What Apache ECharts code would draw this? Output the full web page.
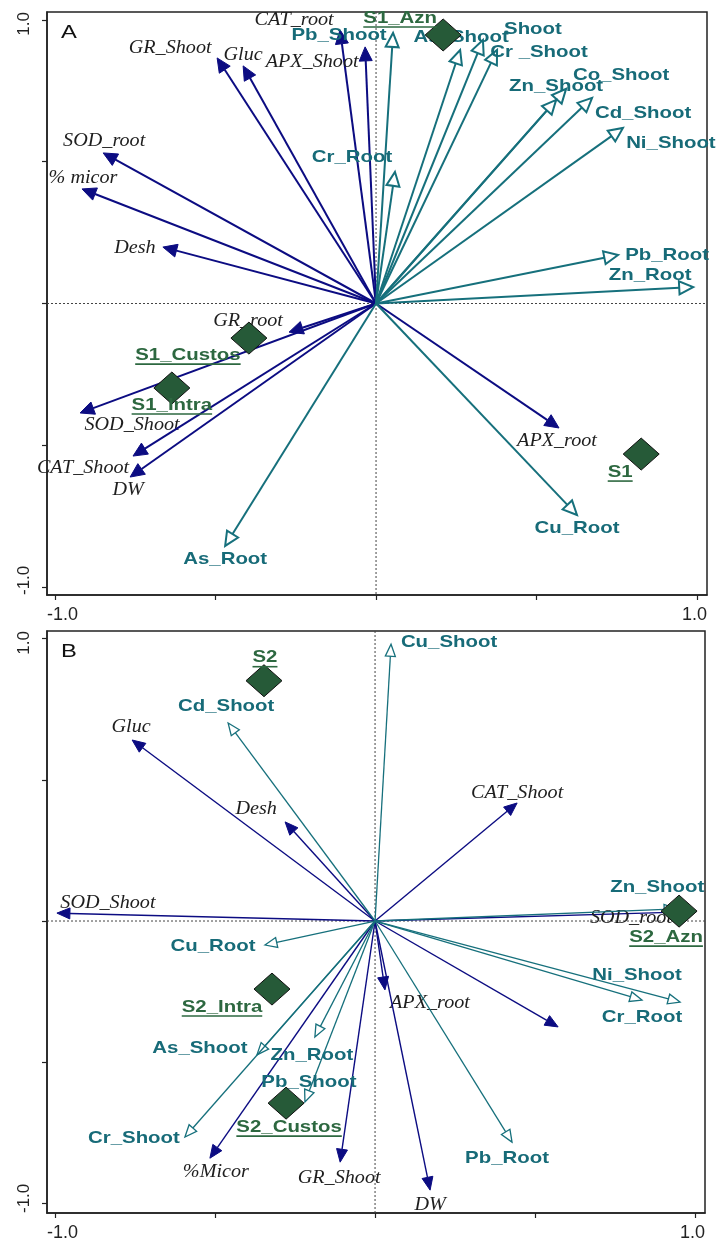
<!DOCTYPE html>
<html>
<head>
<meta charset="utf-8">
<title>RDA biplots A / B</title>
<script src="https://cdn.jsdelivr.net/npm/echarts@6/dist/echarts.min.js"></script>
<style>
html, body { margin: 0; padding: 0; background: #fff; }
#chart { width: 718px; height: 1240px; }
</style>
</head>
<body>
<div id="chart"></div>
<script>
// ticks on both axes, only the two ends carry a label
const tickValues = [-1, -0.5, 0, 0.5, 1];
const endLabels = ['-1.0', '1.0'];

// ---- panel A ----
const aTraitNames = ['CAT_root', 'APX_Shoot', 'GR_Shoot', 'Gluc', 'SOD_root', '% micor', 'Desh',
    'GR_root', 'SOD_Shoot', 'CAT_Shoot', 'DW', 'APX_root'];
const aTraitXY = [[-0.112, 0.965], [-0.034, 0.905], [-0.495, 0.866], [-0.414, 0.838], [-0.850, 0.531],
    [-0.916, 0.404], [-0.664, 0.199], [-0.271, -0.101], [-0.922, -0.386], [-0.757, -0.538],
    [-0.766, -0.612], [0.570, -0.439]];

const aMetalNames = ['Pb_Shoot', 'As_Shoot', 'Shoot', 'Cr _Shoot', 'Co_Shoot', 'Zn_Shoot', 'Cd_Shoot',
    'Ni_Shoot', 'Pb_Root', 'Zn_Root', 'Cr_Root', 'Cu_Root', 'As_Root'];
const aMetalXY = [[0.053, 0.954], [0.262, 0.894], [0.333, 0.929], [0.377, 0.894], [0.592, 0.757],
    [0.561, 0.718], [0.673, 0.725], [0.769, 0.619], [0.754, 0.171], [0.988, 0.058], [0.059, 0.464],
    [0.626, -0.746], [-0.470, -0.855]];

const aSiteNames = ['S1_Azn', 'S1_Custos', 'S1_Intra', 'S1'];
const aSiteXY = [[0.209, 0.947], [-0.396, -0.122], [-0.636, -0.298], [0.826, -0.531]];

// ---- panel B ----
const bTraitNames = ['Gluc', 'Desh', 'SOD_Shoot', 'CAT_Shoot', 'SOD_root', 'APX_root', '', 'DW',
    'GR_Shoot', '%Micor'];
const bTraitXY = [[-0.759, 0.641], [-0.281, 0.351], [-0.994, 0.028], [0.444, 0.418], [0.959, 0.032],
    [0.031, -0.244], [0.572, -0.375], [0.172, -0.953], [-0.109, -0.854], [-0.516, -0.840]];

const bMetalNames = ['Cu_Shoot', 'Cd_Shoot', 'Cu_Root', 'As_Shoot', 'Zn_Root', 'Pb_Shoot', 'Cr_Shoot',
    'Pb_Root', 'Cr_Root', 'Ni_Shoot', 'Zn_Shoot'];
const bMetalXY = [[0.050, 0.980], [-0.459, 0.701], [-0.344, -0.085], [-0.369, -0.474], [-0.188, -0.411],
    [-0.219, -0.641], [-0.594, -0.765], [0.428, -0.783], [0.834, -0.280], [0.953, -0.287], [0.941, 0.043]];

const bSiteNames = ['S2', 'S2_Azn', 'S2_Intra', 'S2_Custos'];
const bSiteXY = [[-0.347, 0.851], [0.950, 0.035], [-0.322, -0.241], [-0.278, -0.645]];

// label placement (px from arrow tip / diamond centre), kept apart from the data
const offA = {
    'CAT_root': [-46, -10], 'APX_Shoot': [-53, 15], 'GR_Shoot': [-47, -10], 'Gluc': [0, -11],
    'SOD_root': [1, -12], '% micor': [1, -11], 'Desh': [-28, 1], 'GR_root': [-41, -11],
    'SOD_Shoot': [52, 12], 'CAT_Shoot': [-50, 12], 'DW': [-2, 13], 'APX_root': [-2, 13],
    'Pb_Shoot': [-54, 2], 'As_Shoot': [1, -13], 'Shoot': [50, -11], 'Cr _Shoot': [42, 2],
    'Co_Shoot': [55, -14], 'Zn_Shoot': [0, -14], 'Cd_Shoot': [51, 15], 'Ni_Shoot': [48, 15],
    'Pb_Root': [49, 0], 'Zn_Root': [-43, -12], 'Cr_Root': [-43, -15], 'Cu_Root': [0, 13], 'As_Root': [0, 13],
    'S1_Azn': [-43, -17], 'S1_Custos': [-61, 17], 'S1_Intra': [0, 17], 'S1': [-21, 18]
};
const offB = {
    'Gluc': [-1, -13], 'Desh': [-29, -13], 'SOD_Shoot': [51, -10], 'CAT_Shoot': [0, -10],
    'SOD_root': [-51, 6], 'APX_root': [45, 13], 'DW': [0, 15], 'GR_Shoot': [-1, 16], '%Micor': [6, 14],
    'Cu_Shoot': [58, -2], 'Cd_Shoot': [-2, -17], 'Cu_Root': [-52, 1], 'As_Shoot': [-57, -7],
    'Zn_Root': [-3, 18], 'Pb_Shoot': [4, -20], 'Cr_Shoot': [-51, 1], 'Pb_Root': [-5, 16],
    'Cr_Root': [0, 17], 'Ni_Shoot': [-43, -27], 'Zn_Shoot': [-19, -22],
    'S2': [1, -23], 'S2_Azn': [-13, 26], 'S2_Intra': [-50, 18], 'S2_Custos': [3, 24]
};

const NAVY = '#0c0c82';
const TEAL = '#16707c';
const SITE = '#2d6840';

const navyText = { font: 'italic 18px "Liberation Serif", "DejaVu Serif", serif', color: '#1e1e1e', stretch: 1.12 };
const tealText = { font: 'bold 17px "Liberation Sans", Arial, sans-serif', color: '#176b78', stretch: 1.2 };
const siteText = { font: 'bold 17px "Liberation Sans", Arial, sans-serif', color: SITE, stretch: 1.2 };

const measureCtx = document.createElement('canvas').getContext('2d');
function textWidth(str, font) {
    measureCtx.font = font;
    return measureCtx.measureText(str).width;
}

function textEl(str, x, y, look) {
    return {
        type: 'text', x: x, y: y, scaleX: look.stretch,
        style: {
            text: str, font: look.font, fill: look.color,
            align: 'center', verticalAlign: 'middle',
            textAlign: 'center', textVerticalAlign: 'middle'
        }
    };
}

function arrowSeries(grid, names, xy, offsets, look) {
    return {
        type: 'custom', xAxisIndex: grid, yAxisIndex: grid,
        z: look.z, silent: true, clip: false,
        encode: { x: 0, y: 1 },
        data: xy,
        renderItem: function (params, api) {
            const o = api.coord([0, 0]);
            const p = api.coord([api.value(0), api.value(1)]);
            const dx = p[0] - o[0], dy = p[1] - o[1];
            const len = Math.sqrt(dx * dx + dy * dy);
            const ux = dx / len, uy = dy / len;
            const bx = p[0] - ux * look.head, by = p[1] - uy * look.head;
            const w = look.half;
            const children = [
                {
                    type: 'line',
                    shape: { x1: o[0], y1: o[1], x2: bx, y2: by },
                    style: { stroke: look.color, lineWidth: look.width }
                },
                {
                    type: 'polygon',
                    shape: { points: [[p[0], p[1]], [bx - uy * w, by + ux * w], [bx + uy * w, by - ux * w]] },
                    style: {
                        fill: look.hollow ? '#fff' : look.color,
                        stroke: look.color,
                        lineWidth: look.hollow ? look.width : 1,
                        lineJoin: 'miter'
                    }
                }
            ];
            const name = names[params.dataIndex];
            if (name) {
                const off = offsets[name] || [0, 0];
                children.push(textEl(name, p[0] + off[0], p[1] + off[1], look.text));
            }
            return { type: 'group', children: children };
        }
    };
}

function siteSeries(grid, names, xy, offsets) {
    return {
        type: 'custom', xAxisIndex: grid, yAxisIndex: grid,
        z: 10, silent: true, clip: false,
        encode: { x: 0, y: 1 },
        data: xy,
        renderItem: function (params, api) {
            const p = api.coord([api.value(0), api.value(1)]);
            const name = names[params.dataIndex];
            const off = offsets[name] || [0, 0];
            const tx = p[0] + off[0], ty = p[1] + off[1];
            const half = textWidth(name, siteText.font) * siteText.stretch / 2;
            return {
                type: 'group',
                children: [
                    {
                        type: 'polygon',
                        shape: { points: [[p[0], p[1] - 16], [p[0] + 18, p[1]], [p[0], p[1] + 16], [p[0] - 18, p[1]]] },
                        style: { fill: '#265a38', stroke: '#111', lineWidth: 1 }
                    },
                    textEl(name, tx, ty, siteText),
                    {
                        type: 'line',
                        shape: { x1: tx - half, y1: ty + 9, x2: tx + half, y2: ty + 9 },
                        style: { stroke: SITE, lineWidth: 1.6 }
                    }
                ]
            };
        }
    };
}

// dotted zero lines across the frame
function zeroCross(grid) {
    return {
        type: 'custom', xAxisIndex: grid, yAxisIndex: grid,
        z: 1, silent: true,
        encode: { x: 0, y: 1 },
        data: [[0, 0]],
        renderItem: function (params, api) {
            const cs = params.coordSys;
            const o = api.coord([0, 0]);
            const st = { stroke: '#444', lineWidth: 1, lineDash: [2, 2] };
            return {
                type: 'group',
                children: [
                    { type: 'line', shape: { x1: cs.x, y1: o[1], x2: cs.x + cs.width, y2: o[1] }, style: st },
                    { type: 'line', shape: { x1: o[0], y1: cs.y, x2: o[0], y2: cs.y + cs.height }, style: st }
                ]
            };
        }
    };
}

// the printed end labels sit flush with the frame corners
function endLabelAt(ext) {
    return [ext[0] + 1e-6, ext[1] - 1e-6];
}
function endLabelText(v) {
    return v < 0 ? endLabels[0] : endLabels[1];
}

function xAxisFor(grid, ext) {
    return {
        type: 'value', gridIndex: grid, min: ext[0], max: ext[1], position: 'bottom',
        axisLine: { show: true, onZero: false, lineStyle: { color: '#222', width: 1.5 } },
        axisTick: { show: true, length: 5, customValues: tickValues, lineStyle: { color: '#222', width: 1.2 } },
        axisLabel: {
            show: true, customValues: endLabelAt(ext), formatter: endLabelText,
            showMinLabel: true, showMaxLabel: true, hideOverlap: false,
            alignMinLabel: 'left', alignMaxLabel: 'right',
            margin: 11, color: '#222', fontSize: 18, fontFamily: '"Liberation Sans", Arial, sans-serif'
        },
        splitLine: { show: false }
    };
}

function yAxisFor(grid, ext) {
    return {
        type: 'value', gridIndex: grid, min: ext[0], max: ext[1], position: 'left',
        axisLine: { show: true, onZero: false, lineStyle: { color: '#222', width: 1.5 } },
        axisTick: { show: true, length: 5, customValues: tickValues, lineStyle: { color: '#222', width: 1.2 } },
        axisLabel: {
            show: true, customValues: endLabelAt(ext), formatter: endLabelText,
            showMinLabel: true, showMaxLabel: true, hideOverlap: false,
            rotate: 90, alignMinLabel: 'left', alignMaxLabel: 'right',
            margin: 14, color: '#222', fontSize: 17, fontFamily: '"Liberation Sans", Arial, sans-serif'
        },
        splitLine: { show: false }
    };
}

const xExtA = [-1.025, 1.031], yExtA = [-1.028, 1.028];
const xExtB = [-1.025, 1.031], yExtB = [-1.034, 1.027];

const lookA = {
    navy: { color: NAVY, width: 2, head: 14, half: 6.5, hollow: false, z: 3, text: navyText },
    teal: { color: TEAL, width: 2, head: 14, half: 6.5, hollow: true, z: 4, text: tealText }
};
const lookB = {
    navy: { color: NAVY, width: 1.4, head: 13, half: 5.5, hollow: false, z: 3, text: navyText },
    teal: { color: TEAL, width: 1.3, head: 12, half: 5, hollow: true, z: 4, text: tealText }
};

const chart = echarts.init(document.getElementById('chart'), null, { renderer: 'canvas' });
chart.setOption({
    animation: false,
    backgroundColor: '#fff',
    tooltip: { show: false },
    grid: [
        { left: 47, top: 12, width: 660, height: 583, show: true, borderColor: '#222', borderWidth: 1.5, outerBoundsMode: 'none', containLabel: false },
        { left: 47, top: 631, width: 658, height: 582, show: true, borderColor: '#222', borderWidth: 1.5, outerBoundsMode: 'none', containLabel: false }
    ],
    xAxis: [xAxisFor(0, xExtA), xAxisFor(1, xExtB)],
    yAxis: [yAxisFor(0, yExtA), yAxisFor(1, yExtB)],
    graphic: [
        { type: 'text', x: 61, y: 33, scaleX: 1.25, style: { text: 'A', font: '19px "Liberation Sans", Arial, sans-serif', fill: '#111', align: 'left', verticalAlign: 'middle', textAlign: 'left', textVerticalAlign: 'middle' } },
        { type: 'text', x: 61, y: 652, scaleX: 1.25, style: { text: 'B', font: '19px "Liberation Sans", Arial, sans-serif', fill: '#111', align: 'left', verticalAlign: 'middle', textAlign: 'left', textVerticalAlign: 'middle' } }
    ],
    series: [
        zeroCross(0),
        arrowSeries(0, aTraitNames, aTraitXY, offA, lookA.navy),
        arrowSeries(0, aMetalNames, aMetalXY, offA, lookA.teal),
        siteSeries(0, aSiteNames, aSiteXY, offA),
        zeroCross(1),
        arrowSeries(1, bTraitNames, bTraitXY, offB, lookB.navy),
        arrowSeries(1, bMetalNames, bMetalXY, offB, lookB.teal),
        siteSeries(1, bSiteNames, bSiteXY, offB)
    ]
});
</script>
</body>
</html>
